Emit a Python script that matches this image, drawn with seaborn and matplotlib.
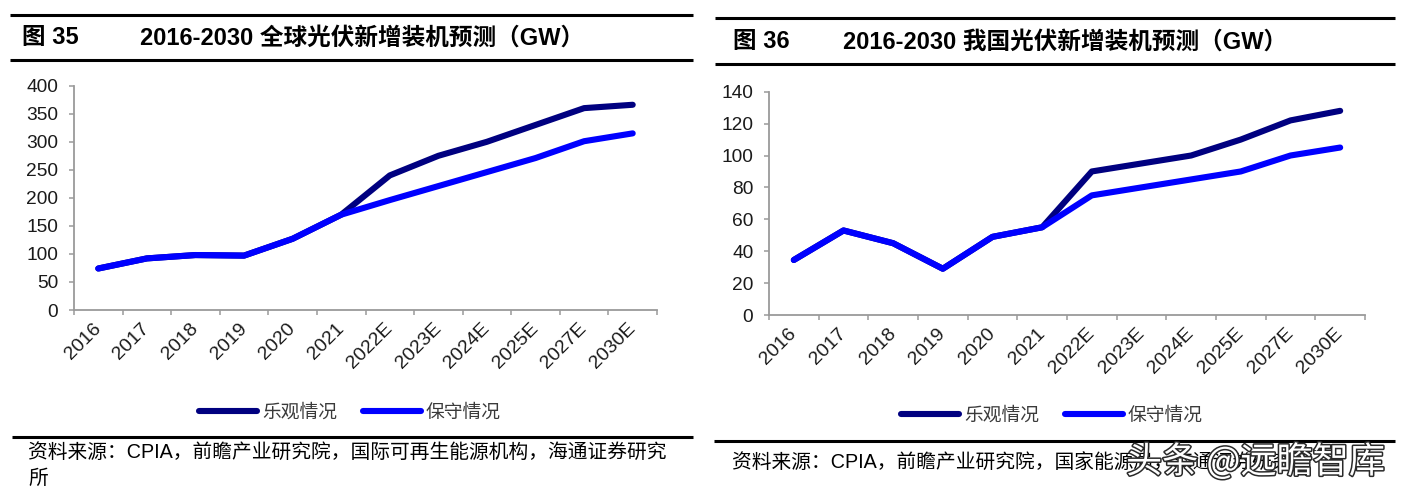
import numpy as np
import pandas as pd
import matplotlib
matplotlib.use('Agg')
import matplotlib.pyplot as plt
import matplotlib.patheffects as pe
from matplotlib.lines import Line2D
import seaborn as sns

# ---------------- data ----------------
years = ['2016', '2017', '2018', '2019', '2020', '2021',
         '2022E', '2023E', '2024E', '2025E', '2027E', '2030E']
global_opt = [74, 92, 98, 97, 127, 170, 240, 275, 300, 330, 360, 366]
global_con = [74, 92, 98, 97, 127, 170, 196, 221, 246, 271, 301, 315]
china_opt = [34.5, 53, 45, 29, 49, 55, 90, 95, 100, 110, 122, 128]
china_con = [34.5, 53, 45, 29, 49, 55, 75, 80, 85, 90, 100, 105]
series_names = ['乐观情况', '保守情况']
colors = ['#000080', '#0000FF']
left_ticks = list(range(0, 401, 50))
right_ticks = list(range(0, 141, 20))

title_left_no = '图 35'
title_left = '2016-2030 全球光伏新增装机预测（GW）'
title_right_no = '图 36'
title_right = '2016-2030 我国光伏新增装机预测（GW）'
source_left_1 = '资料来源：CPIA，前瞻产业研究院，国际可再生能源机构，海通证券研究'
source_left_2 = '所'
source_right = '资料来源：CPIA，前瞻产业研究院，国家能源局，海通证券研究所'
watermark = '头条 @远瞻智库'

# ---------------- style ----------------
sns.set_style('white')
plt.rcParams['font.family'] = ['Liberation Sans', 'Noto Sans CJK SC', 'DejaVu Sans']
plt.rcParams['axes.unicode_minus'] = False

W, H, DPI = 1410, 490, 100
fig = plt.figure(figsize=(W / DPI, H / DPI), dpi=DPI)
fig.patch.set_facecolor('white')

GRAY = '#9a9a9a'
TXT = '#1a1a1a'


def rect(l, t, r, b):
    return [l / W, 1 - b / H, (r - l) / W, (b - t) / H]


def hline(x0, x1, y, lw=2.2):
    fig.add_artist(Line2D([x0 / W, x1 / W], [1 - y / H, 1 - y / H],
                          color='black', lw=lw, solid_capstyle='butt'))


def make_df(opt, con):
    return pd.DataFrame({
        'year': years + years,
        'value': list(opt) + list(con),
        'scenario': [series_names[0]] * len(years) + [series_names[1]] * len(years),
    })


def draw_panel(box, opt, con, yticks):
    ax = fig.add_axes(rect(*box))
    df = make_df(opt, con)
    sns.lineplot(data=df, x='year', y='value', hue='scenario',
                 hue_order=series_names, palette=colors, lw=4.4,
                 sort=False, legend=False, ax=ax)
    for ln in ax.lines:
        ln.set_solid_capstyle('round')
        ln.set_solid_joinstyle('round')
    ax.set_xlim(-0.5, len(years) - 0.5)
    ax.set_ylim(yticks[0], yticks[-1])
    ax.set_yticks(yticks)
    ax.set_xticks(np.arange(len(years)))
    ax.set_xticklabels(years)
    ax.set_xticks(np.arange(-0.5, len(years), 1), minor=True)
    ax.set_xlabel('')
    ax.set_ylabel('')
    for s in ['top', 'right']:
        ax.spines[s].set_visible(False)
    for s in ['left', 'bottom']:
        ax.spines[s].set_color(GRAY)
        ax.spines[s].set_linewidth(1.3)
    ax.tick_params(axis='y', which='major', length=3.8, width=1.1, color=GRAY,
                   direction='out', left=True, pad=7.5, labelsize=13.8, labelcolor=TXT)
    ax.tick_params(axis='x', which='major', length=0, pad=11.5, labelsize=14,
                   labelcolor=TXT, bottom=True)
    ax.tick_params(axis='x', which='minor', length=3.8, width=1.1, color=GRAY,
                   direction='out', bottom=True)
    for lab in ax.get_xticklabels():
        lab.set_rotation(45)
        lab.set_ha('right')
        lab.set_va('center')
        lab.set_rotation_mode('anchor')
    ax.set_facecolor('white')
    return ax


axL = draw_panel((74, 85.7, 657, 310), global_opt, global_con, left_ticks)
axR = draw_panel((769, 91.7, 1365, 315), china_opt, china_con, right_ticks)

# ---------------- titles & rules ----------------
hline(10, 693, 15)
hline(10, 693, 60)
fig.text(22 / W, 1 - 38 / H, title_left_no, fontsize=17, weight='bold',
         va='center', ha='left', color='black')
fig.text(140 / W, 1 - 38 / H, title_left, fontsize=17, weight='bold',
         va='center', ha='left', color='black')

hline(715, 1395, 18)
hline(715, 1395, 64)
fig.text(733 / W, 1 - 42 / H, title_right_no, fontsize=17, weight='bold',
         va='center', ha='left', color='black')
fig.text(843 / W, 1 - 42 / H, title_right, fontsize=17, weight='bold',
         va='center', ha='left', color='black')

# ---------------- legends ----------------
handles = [Line2D([0], [0], color=c, lw=4.4, solid_capstyle='round') for c in colors]
for cx, cy in [(350, 413), (1052, 416)]:
    leg = fig.legend(handles, series_names, loc='center',
                     bbox_to_anchor=(cx / W, 1 - cy / H), ncol=2, frameon=False,
                     fontsize=13.5, handlelength=3.1, handletextpad=0.25,
                     columnspacing=1.4, borderaxespad=0, borderpad=0)
    for t in leg.get_texts():
        t.set_color('#3a3a3a')

# ---------------- sources ----------------
hline(12, 693, 437, lw=2.2)
fig.text(28 / W, 1 - 452 / H, source_left_1, fontsize=14.2, va='center',
         ha='left', color='black')
fig.text(28 / W, 1 - 478 / H, source_left_2, fontsize=14.2, va='center',
         ha='left', color='black')

hline(714, 1395, 441, lw=2.2)
fig.text(732 / W, 1 - 463 / H, source_right, fontsize=14.2, va='center',
         ha='left', color='black')

wm = fig.text(1126 / W, 1 - 462 / H, watermark, fontsize=26, va='center',
              ha='left', color='white',
              family=['Noto Sans CJK SC', 'DejaVu Sans'])
wm.set_path_effects([pe.Stroke(linewidth=2.2, foreground='#2a2a2a'), pe.Normal()])

fig.savefig('out.png', dpi=DPI, facecolor='white')
